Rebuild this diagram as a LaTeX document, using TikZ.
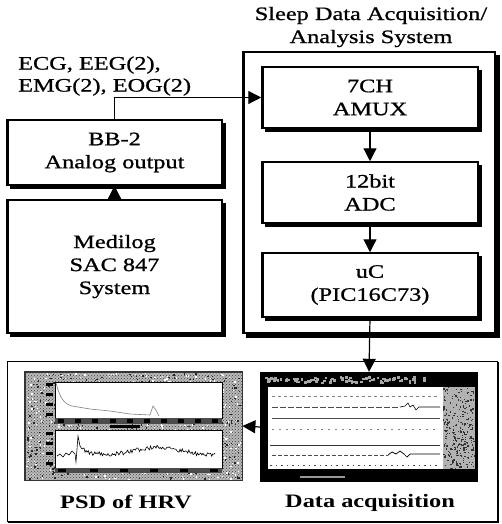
\documentclass[tikz,border=0pt]{standalone}
\usepackage{fontspec}
\setmainfont{Liberation Serif}[FakeStretch=1.28, UprightFeatures={FakeBold=0.9}]
\usetikzlibrary{arrows.meta,patterns}
\newcommand{\boxshade}[2]{%
  \fill ([yshift=-#2]#1.north east) rectangle ([xshift=#2,yshift=-#2]#1.south east);
  \fill ([xshift=#2]#1.south west) rectangle ([xshift=#2,yshift=-#2]#1.south east);
  \draw[line width=0.5pt] ([xshift=2.2pt,yshift=-2.2pt]#1.north west) -- ([xshift=2.2pt,yshift=2.2pt]#1.south west);}
\begin{document}
\begin{tikzpicture}[x=1pt,y=-1pt,
  blk/.style={draw, line width=1.5pt, fill=white, align=center, inner sep=0pt,
    font=\fontsize{19}{23}\selectfont},
  lbl/.style={align=center, inner sep=0pt, font=\fontsize{19}{23}\selectfont},
  blbl/.style={align=center, inner sep=0pt, font=\fontsize{19}{23}\selectfont\bfseries},
  arr/.style={line width=1.2pt, -{Triangle[width=13pt,length=13pt]}},
]
\useasboundingbox (0,0) rectangle (501,524);

% bottom box
\node[draw, line width=1pt, fill=white, minimum width=490pt, minimum height=160pt, inner sep=0pt] (bot) at (252,441) {};
\fill ([yshift=-1.5pt]bot.north east) rectangle ([xshift=1.6pt,yshift=-1.6pt]bot.south east);
\fill ([xshift=1.5pt]bot.south west) rectangle ([xshift=1.6pt,yshift=-1.6pt]bot.south east);

% system box
\node[draw, line width=1.5pt, fill=white, minimum width=252pt, minimum height=281pt, inner sep=0pt] (sys) at (369,192.5) {};
\boxshade{sys}{4pt}
\node[lbl] (title) at (371,27) {Sleep Data Acquisition/\\Analysis System};

\node[blk, minimum width=216pt, minimum height=61pt] (amux) at (370,97.5) {7CH\\AMUX};
\boxshade{amux}{3.5pt}
\node[blk, minimum width=216pt, minimum height=61pt] (adc) at (370,192.5) {12bit\\ADC};
\boxshade{adc}{3.5pt}
\node[blk, minimum width=216pt, minimum height=64pt] (uc) at (370,285) {uC\\(PIC16C73)};
\boxshade{uc}{3.5pt}

\node[blk, minimum width=215pt, minimum height=65pt] (bb) at (114.5,152.5) {BB-2\\Analog output};
\boxshade{bb}{3.5pt}
\node[blk, minimum width=215pt, minimum height=133pt] (med) at (114.5,266.5) {Medilog\\SAC 847\\System};
\boxshade{med}{3.5pt}

\node[lbl, align=left, anchor=west, font=\fontsize{19}{22}\selectfont] (sig) at (18,76) {ECG, EEG(2),\\EMG(2), EOG(2)};

% screenshots (frames)
\node[inner sep=0pt, minimum width=217pt, minimum height=108pt, fill=gray!55, draw=black!80, line width=0.8pt] (psd) at (133.5,426) {};
\node[inner sep=0pt, minimum width=218pt, minimum height=110pt, fill=black] (daq) at (369,427) {};

% texture of PSD frame
\fill[pattern=crosshatch dots, pattern color=black!75] (psd.north west) rectangle (psd.south east);
\pgfmathsetseed{11}
\foreach \i in {1,...,900}{
  \pgfmathsetmacro\rx{26+214*rnd}
  \pgfmathsetmacro\ry{373+106*rnd}
  \pgfmathsetmacro\rc{rnd>0.5?1:0}
  \ifdim\rc pt>0.5pt
    \fill[black!85] (\rx,\ry) rectangle +(1.4,1.4);
  \else
    \fill[white] (\rx,\ry) rectangle +(1.4,1.4);
  \fi
}
\draw[black!80, line width=0.8pt] (psd.north west) rectangle (psd.south east);
% top plot of PSD
\fill[white] (55,382) rectangle (222,418);
\draw[line width=0.7pt] (55,382) rectangle (222,418);
\fill[black!70] (55,418) rectangle (222,424);
\foreach \xx in {58,75,92,110,127,144,161,178,195,212}
  \fill[black] (\xx,419) rectangle +(6,4);
\foreach \yy in {383,393,403,413}
  \fill[black] (46,\yy) rectangle +(7,3);
\fill[black] (110,425) rectangle (140,428);
\draw[gray, line width=0.6pt] (56,383) .. controls (60,398) and (64,404) .. (72,406)
  -- (90,409) -- (110,411) -- (130,414) -- (150,415) -- (153,406) -- (156,410) -- (159,416);
% bottom plot of PSD
\fill[white] (55,430) rectangle (222,468);
\draw[line width=0.7pt] (55,430) rectangle (222,468);
\fill[black!70] (55,468) rectangle (222,473);
\foreach \xx in {58,90,120,150,180,210}
  \fill[black] (\xx,469) rectangle +(8,3);
\foreach \yy in {432,442,452,462}
  \fill[black] (46,\yy) rectangle +(7,3);
\pgfmathsetseed{5}
\draw[line width=0.6pt] (57,456) -- (60,454) -- (63,457) -- (66,453) -- (69,455) -- (72,451) -- (75,454)
  -- (76,462) -- (78,436) -- (80,446) -- (82,449) -- (84,448)
  -- plot[domain=85:215, samples=120] (\x,{452+2.5*sin(4*\x)+2*sin(1.7*\x)+2.2*rand});

% Data acquisition screenshot
\fill[white] (268,387) rectangle (443,469);
\fill[gray!60] (443,387) rectangle (475,469);
\pgfmathsetseed{3}
\foreach \i in {1,...,260}{
  \pgfmathsetmacro\rx{443+31*rnd}
  \pgfmathsetmacro\ry{387+81*rnd}
  \fill[black!80] (\rx,\ry) rectangle +(1.3,1.3);
}
\pgfmathsetseed{9}
\foreach \i in {1,...,90}{
  \pgfmathsetmacro\rx{264+160*rnd}
  \pgfmathsetmacro\ry{376+6*rnd}
  \fill[gray!70] (\rx,\ry) rectangle +(2.5,2.5);
}
\fill[gray!80] (300,476) rectangle (345,478);
\draw[gray, line width=0.6pt, dash pattern=on 3pt off 3pt] (272,396) -- (440,396);
\draw[gray!60!black, line width=0.6pt, dash pattern=on 6pt off 2pt] (272,407) -- (400,407);
\draw[black, line width=0.6pt] (400,407) -- (405,406) -- (408,403) -- (410,407) -- (413,405) -- (416,410) -- (419,407) -- (440,407);
\draw[black!70, line width=0.6pt] (272,418) -- (440,418);
\draw[gray, line width=0.6pt, dash pattern=on 2pt off 5pt] (272,429) -- (440,429);
\draw[black!80, line width=0.7pt] (270,445) -- (440,445);
\draw[gray!60!black, line width=0.6pt, dash pattern=on 4pt off 2pt] (272,455) -- (388,455);
\draw[black, line width=0.7pt] (388,455) -- (392,452) -- (396,454) -- (400,451) -- (404,454) -- (407,457) -- (410,454) -- (440,454);
\draw[black!70, line width=0.6pt, dash pattern=on 1.5pt off 4pt] (270,465) -- (440,465);

% connectors
\draw[arr] (bb.north) |- (amux.west);
\draw[arr] (med.north) -- (bb.south);
\draw[arr] (amux.south) -- (adc.north);
\draw[arr] (adc.south) -- (uc.north);
\draw[arr] (uc.south) -- (daq.north);
\draw[arr] (daq.west) -- (psd.east);

\node[blbl] (psdl) at (126,502) {PSD of HRV};
\node[blbl] (daql) at (370,503) {Data acquisition};
\end{tikzpicture}
\end{document}
